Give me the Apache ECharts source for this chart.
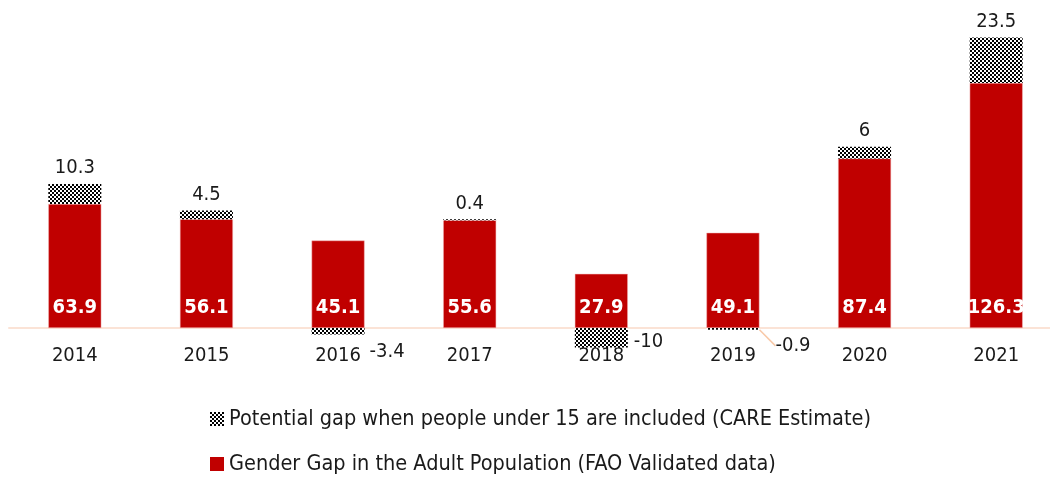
<!DOCTYPE html>
<html><head><meta charset="utf-8">
<script src="https://cdn.jsdelivr.net/npm/echarts@6/dist/echarts.min.js"></script>
<style>html,body{margin:0;padding:0;background:#fff;overflow:hidden}#c{width:1066px;height:477px}</style>
</head><body><div id="c"></div>
<script>
var categories = ['2014','2015','2016','2017','2018','2019','2020','2021'];
var adultGap = [63.9, 56.1, 45.1, 55.6, 27.9, 49.1, 87.4, 126.3];
var under15Gap = [10.3, 4.5, -3.4, 0.4, -10, -0.9, 6, 23.5];
var seriesNames = ['Potential gap when people under 15 are included (CARE Estimate)', 'Gender Gap in the Adult Population (FAO Validated data)'];

var FONT = "'DejaVu Sans Condensed', 'Liberation Sans Narrow', sans-serif";
var pc = document.createElement('canvas');
pc.width = 4; pc.height = 4;
var g = pc.getContext('2d');
g.fillStyle = '#fff'; g.fillRect(0,0,4,4);
g.fillStyle = '#000'; g.fillRect(0,0,2,2); g.fillRect(2,2,2,2);
var pattern = {image: pc, repeat: 'repeat'};

var chart = echarts.init(document.getElementById('c'));
var hatchData = under15Gap.map(function(v, i){
  var item = {value: v};
  if (v < 0) {
    item.label = {position: 'right', distance: 8, verticalAlign: 'middle'};
  }
  if (i === 5) item.labelLine = {show: true};
  return item;
});
chart.setOption({
  animation: false,
  grid: {left: 9, width: 1053, top: 17.6, height: 329.8},
  legend: {
    orient: 'vertical', left: 210, top: 408, height: 80, padding: 0, itemWidth: 14, itemHeight: 14, itemGap: 23,
    data: [{name: seriesNames[0], icon: 'rect'}, {name: seriesNames[1], icon: 'rect', itemStyle: {borderWidth: 0}}],
    textStyle: {fontFamily: FONT, fontSize: 21.5, color: '#1a1a1a'}
  },
  xAxis: {
    type: 'category', data: categories,
    axisLine: {lineStyle: {color: '#fbe3d6', width: 2}},
    axisTick: {show: false},
    axisLabel: {fontFamily: FONT, fontSize: 20, color: '#1a1a1a', margin: -2}
  },
  yAxis: {type: 'value', min: -10, max: 160, show: false, splitLine: {show: false}},
  series: [
    {
      name: seriesNames[1], type: 'bar', stack: 'g', barWidth: 53, data: adultGap,
      itemStyle: {color: '#c00000', borderColor: '#f3b9b9', borderWidth: 0.5},
      label: {show: true, position: 'insideBottom', distance: 10, color: '#fff', fontWeight: 'bold', fontFamily: FONT, fontSize: 20}
    },
    {
      name: seriesNames[0], type: 'bar', stack: 'g', barWidth: 53, data: hatchData,
      itemStyle: {color: pattern},
      label: {show: true, position: 'top', distance: 6, color: '#1a1a1a', fontFamily: FONT, fontSize: 20},
      labelLine: {show: false, lineStyle: {color: '#f8c9a8', width: 1.5}},
      labelLayout: function(p){
        if (p.dataIndex === 2) return {dx: -3, dy: 20};
        if (p.dataIndex === 4) return {dx: -2, dy: 4};
        if (p.dataIndex === 5) return {dx: 8, dy: 17};
        return {};
      }
    }
  ]
});
</script></body></html>
